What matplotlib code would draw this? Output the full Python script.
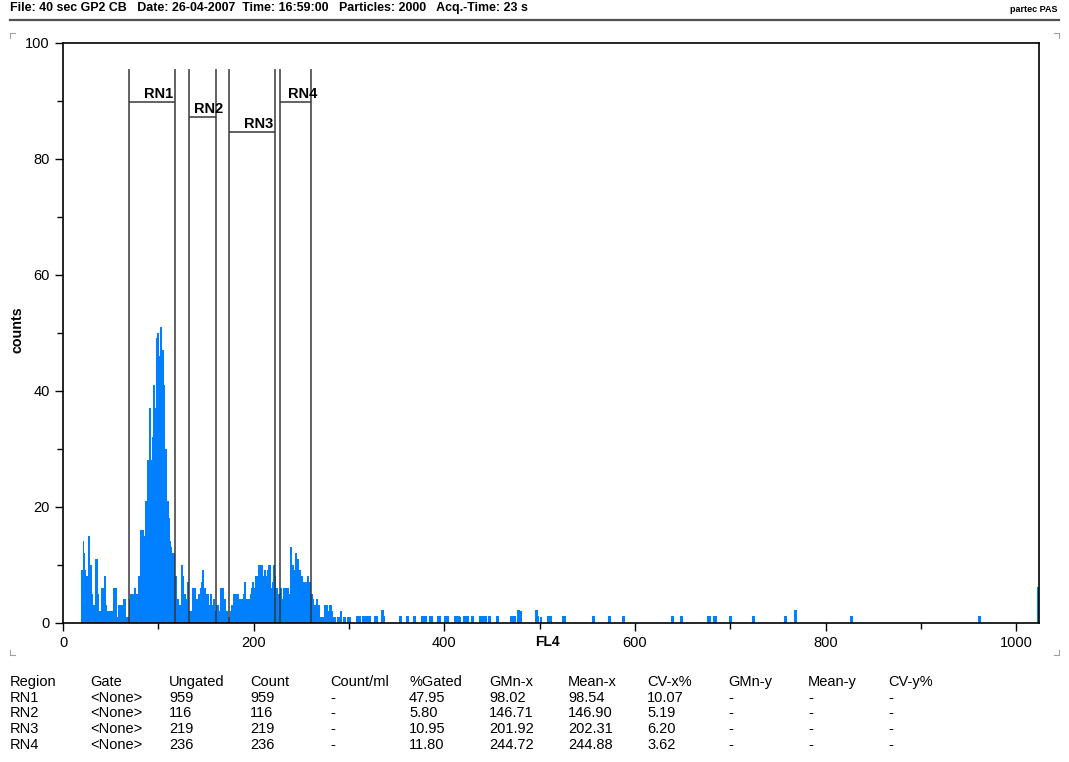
import numpy as np
import matplotlib
matplotlib.use("Agg")
import matplotlib.pyplot as plt
from matplotlib.lines import Line2D

plt.rcParams['font.family'] = ['Liberation Sans', 'DejaVu Sans']

# histogram counts, channels 19..301 (one value per channel)
first_channel = 19
dense_counts = [
    9, 9, 14, 12, 9, 8, 8, 4, 15, 4, 10, 5, 3, 3, 3, 11, 11, 5, 2, 2,      # 19-38
    1, 6, 6, 2, 2, 8, 3, 2, 1, 2, 2, 1, 2, 1, 6, 5, 6, 1, 1, 3,            # 39-58
    1, 3, 1, 3, 4, 2, 4, 1, 1, 1, 1,                                       # 59-69
    4, 5, 4, 5, 5, 6, 4, 5, 5, 8, 8, 16, 11, 16, 11, 15, 15, 21, 21, 28,  # 70-89
    23, 37, 16, 28, 32, 41, 37, 37, 49, 50, 44, 46, 51, 45, 47, 41, 30,   # 90-106
    22, 30, 18, 21, 18, 14, 13, 5, 12, 12, 5, 8, 4, 4, 3, 2, 3,           # 107-123
    10, 8, 5, 4, 5, 4, 4, 7, 2, 2, 2, 2, 6, 4, 6, 4, 4, 4, 5, 3,          # 124-143
    6, 7, 9, 6, 6, 3, 5, 5, 5, 3, 3, 5, 3, 1, 4, 2, 2, 3, 3, 2,           # 144-163
    2, 6, 6, 6, 2, 4, 2, 2, 2, 1, 1, 1, 2, 3, 2, 5, 5, 5, 5, 5,           # 164-183
    4, 4, 4, 4, 4, 5, 7, 4, 4, 4, 4, 4, 4, 5, 6, 7, 6, 6, 8, 8,           # 184-203
    6, 10, 1, 10, 10, 8, 7, 9, 8, 8, 7, 9, 10, 10, 6, 6, 7, 10, 8, 6,     # 204-223
    6, 4, 5, 3, 6, 4, 4, 6, 6, 5, 4, 6, 6, 5, 2, 13, 8, 10, 8, 9,         # 224-243
    12, 8, 11, 7, 9, 7, 8, 6, 7, 5, 7, 5, 5, 8, 7, 7, 5, 5, 4, 2,         # 244-263
    3, 1, 4, 1, 3, 1, 1, 1, 1, 1, 3, 2, 3, 3, 1, 2, 3, 3, 2, 1,           # 264-283
    0, 1, 0, 0, 1, 1, 1, 2, 0, 0, 1, 1, 0, 0, 1, 1, 1, 1,                 # 284-301
]

# sparse tail beyond channel 301
tail_channels = [308, 311, 315, 316, 317, 320, 321, 327, 328, 335, 336, 354, 361,
                 368, 377, 379, 380, 385, 386, 393, 394, 395, 401, 403, 411, 414,
                 416, 421, 424, 429, 438, 440, 443, 447, 455, 470, 473, 477, 480,
                 496, 497, 501, 509, 511, 525, 526, 556, 573, 588, 639, 648, 677,
                 678, 683, 684, 700, 724, 758, 768, 827, 961, 1023]
tail_counts = [1, 1, 1, 1, 1, 1, 1, 1, 1, 2, 1, 1, 1,
               1, 1, 1, 1, 1, 1, 1, 1, 1, 1, 1, 1, 1,
               1, 1, 1, 1, 1, 1, 1, 1, 1, 1, 1, 2, 2,
               2, 1, 1, 1, 1, 1, 1, 1, 1, 1, 1, 1, 1,
               1, 1, 1, 1, 1, 1, 2, 1, 1, 6]

# region gates
region_names = ['RN1', 'RN2', 'RN3', 'RN4']
region_left = [69, 132, 174, 228]
region_right = [118, 160, 222, 260]
region_level = [89.8, 87.2, 84.7, 89.8]
gate_top = 95.5

# statistics table
table_header = ['Region', 'Gate', 'Ungated', 'Count', 'Count/ml', '%Gated',
                'GMn-x', 'Mean-x', 'CV-x%', 'GMn-y', 'Mean-y', 'CV-y%']
table_gate = ['<None>', '<None>', '<None>', '<None>']
table_ungated = ['959', '116', '219', '236']
table_count = ['959', '116', '219', '236']
table_gated = ['47.95', '5.80', '10.95', '11.80']
table_gmn_x = ['98.02', '146.71', '201.92', '244.72']
table_mean_x = ['98.54', '146.90', '202.31', '244.88']
table_cv_x = ['10.07', '5.19', '6.20', '3.62']

W, H = 1069, 762
fig = plt.figure(figsize=(W / 100, H / 100), dpi=100)
ax = fig.add_axes([63 / W, 1 - 623 / H, (1039 - 63) / W, (623 - 43) / H])

# full 1024-channel histogram
hist = np.zeros(1024)
hist[first_channel:first_channel + len(dense_counts)] = dense_counts
hist[np.array(tail_channels)] = tail_counts
ax.stairs(hist, np.arange(1025), fill=True, color='#0080ff', linewidth=0,
          antialiased=False)
ax.bar(tail_channels, tail_counts, width=1.0, align='edge', color='#0080ff',
       edgecolor='#0080ff', linewidth=0.3, antialiased=False)

# gates
for name, lo, hi, lvl in zip(region_names, region_left, region_right, region_level):
    ax.vlines([lo, hi], 0, gate_top, color='#383838', linewidth=1.1)
    ax.hlines(lvl, lo, hi, color='#383838', linewidth=1.1)
    ax.text((lo + hi) / 2 + 7, lvl + 0.2, name, ha='center', va='bottom',
            fontsize=10.5, fontweight='bold')

ax.set_xlim(0, 1024)
ax.set_ylim(0, 100)
ax.set_xticks([0, 200, 400, 600, 800, 1000])
ax.set_xticks([100, 300, 500, 700, 900], minor=True)
ax.set_yticks([0, 20, 40, 60, 80, 100])
ax.set_yticks([10, 30, 50, 70, 90], minor=True)
ax.tick_params(which='major', length=6, width=1, labelsize=10.5, direction='out')
ax.tick_params(which='minor', length=4, width=1, direction='out')
for sp in ax.spines.values():
    sp.set_linewidth(1.2)

fig.text(547 / W, 1 - 642 / H, 'FL4', ha='center', va='center',
         fontsize=10, fontweight='bold')
fig.text(18 / W, 1 - 330 / H, 'counts', ha='center', va='center',
         rotation=90, fontsize=10.3, fontweight='bold')

# header
fig.text(10 / W, 1 - 8 / H,
         'File: 40 sec GP2 CB   Date: 26-04-2007  Time: 16:59:00   Particles: 2000   Acq.-Time: 23 s',
         ha='left', va='center', fontsize=8.9, fontweight='bold')
fig.text(1058 / W, 1 - 9 / H, 'partec PAS', ha='right', va='center',
         fontsize=6.5, fontweight='bold')
fig.add_artist(Line2D([10 / W, 1059 / W], [1 - 19.5 / H, 1 - 19.5 / H],
                      color='#505050', linewidth=1.6))

# corner marks
for cx, cy, dx, dy in [(10, 33, 1, 1), (1059, 33, -1, 1), (10, 655, 1, -1), (1059, 655, -1, -1)]:
    fig.add_artist(Line2D([cx / W, cx / W, (cx + 5 * dx) / W],
                          [1 - (cy + 5 * dy) / H, 1 - cy / H, 1 - cy / H],
                          color='#a0a0a0', linewidth=0.8))

# table
col_x = [10, 90, 169, 250, 330, 409, 489, 568, 647, 728, 808, 888]
row_y = [682, 698, 713, 729, 745]
for x, label in zip(col_x, table_header):
    fig.text(x / W, 1 - row_y[0] / H, label, ha='left', va='center', fontsize=10.5)
for i in range(4):
    cells = [region_names[i], table_gate[i], table_ungated[i], table_count[i], '-',
             table_gated[i], table_gmn_x[i], table_mean_x[i], table_cv_x[i], '-', '-', '-']
    for x, cell in zip(col_x, cells):
        fig.text(x / W, 1 - row_y[i + 1] / H, cell, ha='left', va='center', fontsize=10.5)

fig.savefig('out.png', dpi=100)
